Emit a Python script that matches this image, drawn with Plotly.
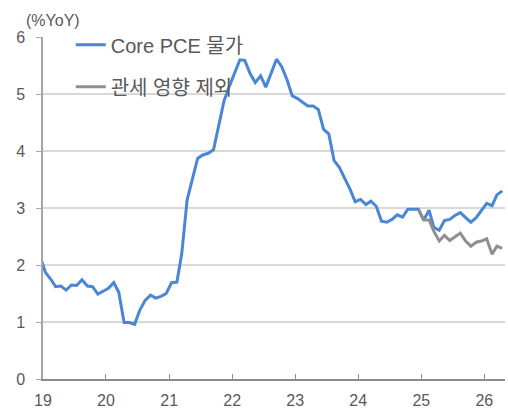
import plotly.graph_objects as go

# Monthly dates (mid-month), Dec 2018 .. Apr 2026
months = [f"{2018 + (i + 11) // 12}-{(i + 11) % 12 + 1:02d}-15" for i in range(89)]

core_pce = [2.16,
            1.87, 1.75, 1.62, 1.63, 1.56, 1.65, 1.64, 1.74, 1.63, 1.62, 1.49, 1.54,
            1.59, 1.69, 1.52, 0.99, 0.99, 0.96, 1.21, 1.38, 1.47, 1.42, 1.45, 1.50,
            1.69, 1.70, 2.20, 3.14, 3.49, 3.87, 3.93, 3.96, 4.02, 4.45, 4.88, 5.13,
            5.36, 5.60, 5.59, 5.36, 5.20, 5.32, 5.12, 5.37, 5.61, 5.48, 5.25, 4.97,
            4.92, 4.85, 4.79, 4.79, 4.73, 4.38, 4.30, 3.83, 3.71, 3.52, 3.33, 3.11,
            3.15, 3.06, 3.12, 3.03, 2.77, 2.75, 2.80, 2.88, 2.84, 2.98, 2.98, 2.98,
            2.79, 2.96, 2.66, 2.61, 2.78, 2.80, 2.87, 2.92, 2.83, 2.75, 2.83, 2.96,
            3.08, 3.04, 3.23, 3.30]

ex_tariff_months = months[72:]  # Dec 2024 .. Apr 2026
ex_tariff = [2.98, 2.79, 2.79, 2.59, 2.42, 2.52, 2.43, 2.49, 2.56, 2.42, 2.33,
             2.40, 2.42, 2.46, 2.19, 2.33, 2.29]

tick_vals = [f"{y}-01-01" for y in range(2019, 2027)]
tick_text = ["19", "20", "21", "22", "23", "24", "25", "26"]

FONT = "Liberation Sans, Noto Sans CJK KR, Arial, sans-serif"
TXT = "#595959"

fig = go.Figure()
fig.add_trace(go.Scatter(x=months, y=core_pce, mode="lines", name="Core PCE 물가",
                         legendgroup="a",
                         line=dict(color="#4a86d6", width=3)))
fig.add_trace(go.Scatter(x=ex_tariff_months, y=ex_tariff, mode="lines", name="관세 영향 제외",
                         legendgroup="b",
                         line=dict(color="#8f8f8f", width=3)))

fig.update_layout(
    width=508, height=412,
    margin=dict(l=43, r=3, t=37, b=33, autoexpand=False),
    paper_bgcolor="white", plot_bgcolor="white",
    font=dict(family=FONT, size=16, color=TXT),
    showlegend=True,
    legend=dict(x=0.06, y=1.034, xanchor="left", yanchor="top",
                bgcolor="rgba(0,0,0,0)", font=dict(size=20, color=TXT),
                tracegroupgap=13, traceorder="grouped"),
    annotations=[dict(text="(%YoY)", xref="paper", yref="paper", x=-0.042, y=1.049,
                      xanchor="left", yanchor="middle", showarrow=False,
                      font=dict(size=16, color=TXT))],
)
fig.update_xaxes(type="date", range=["2019-01-01", "2026-05-01"],
                 tickvals=tick_vals, ticktext=tick_text,
                 showgrid=False, showline=True, linecolor="#8c8c8c", linewidth=1.5,
                 ticks="inside", ticklen=5, tickcolor="#8c8c8c",
                 ticklabelstandoff=6, zeroline=False, automargin=False)
fig.update_yaxes(range=[0, 6], dtick=1, showgrid=True, gridcolor="#d9d9d9", gridwidth=1.5,
                 showline=True, linecolor="#a6a6a6", linewidth=1.5,
                 ticks="outside", ticklen=5, tickcolor="#a6a6a6",
                 ticklabelstandoff=8, zeroline=False, automargin=False)

fig.write_html("out.html", config={"displayModeBar": False},
               post_script="document.body.style.margin='0';")
